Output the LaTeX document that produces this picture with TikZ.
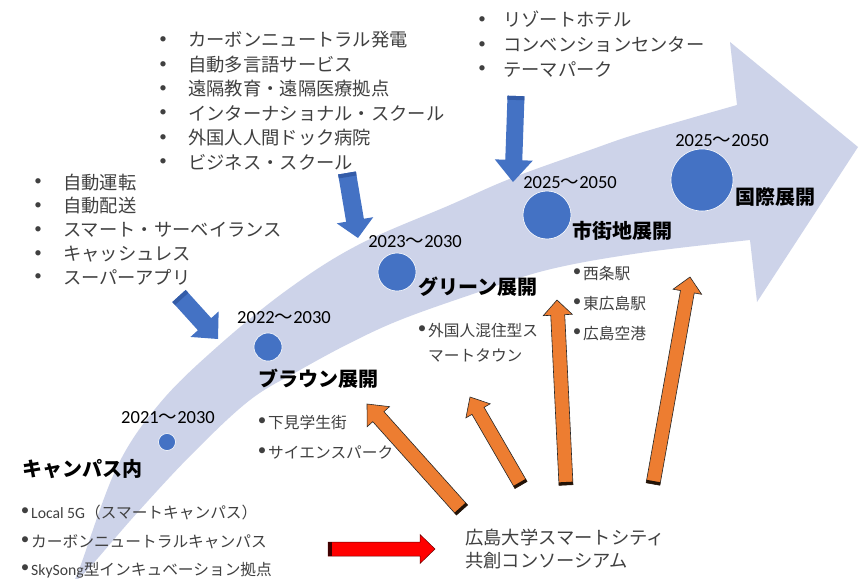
\documentclass[tikz,border=0pt]{standalone}
\usepackage{fontspec}
\setmainfont{Noto Sans CJK JP}
\newfontfamily\latinf{Carlito}
\newfontfamily\jpf{Noto Sans CJK JP}
\usetikzlibrary{calc}
\definecolor{band}{RGB}{205,211,233}
\definecolor{dotblue}{RGB}{68,114,196}
\definecolor{bluestripe}{RGB}{52,92,168}
\definecolor{orangeA}{RGB}{237,125,49}
\definecolor{txtgray}{RGB}{64,64,64}
\newcommand\blockarr[8]{%
  \path ($(#3)!#6!(#2)$) coordinate (hb) ($(#2)!#8!(#3)$) coordinate (ts);
  \filldraw[#1] ($(#2)!#4!90:(#3)$) -- ($(hb)!#4!90:(#3)$) -- ($(hb)!#5!90:(#3)$) -- (#3)
     -- ($(hb)!#5!-90:(#3)$) -- ($(hb)!#4!-90:(#3)$) -- ($(#2)!#4!-90:(#3)$) -- cycle;
  \fill[#7] ($(#2)!#4!90:(#3)$) -- ($(ts)!#4!90:(#3)$) -- ($(ts)!#4!-90:(#3)$) -- ($(#2)!#4!-90:(#3)$) -- cycle;
}
\begin{document}
\begin{tikzpicture}[x=1pt,y=-1pt,
  li/.style={anchor=base west, text=txtgray, font=\fontsize{18.3}{20}\selectfont, inner sep=0},
  bul/.style={anchor=center, text=txtgray, font=\fontsize{15}{16}\selectfont\latinf, inner sep=0},
  sli/.style={anchor=base west, text=txtgray, font=\fontsize{15.7}{18}\selectfont, inner sep=0},
  sbul/.style={anchor=center, text=txtgray, font=\fontsize{17}{18}\selectfont\latinf, inner sep=0},
  yr/.style={anchor=base, text=black, font=\fontsize{18.5}{20}\selectfont\latinf, inner sep=0},
  stage/.style={anchor=base west, text=black, font=\fontsize{20}{22}\selectfont\bfseries, inner sep=0},
  dot/.style={circle, fill=dotblue, draw=white, line width=0.6pt, inner sep=0},
  bluearr/.style={fill=dotblue, draw=none},
  orarr/.style={fill=orangeA, draw=black!85, line width=0.6pt},
  redarr/.style={fill=red, draw=red!40!black, line width=0.5pt}]
\useasboundingbox (0,0) rectangle (861,578);
\fill[white] (0,0) rectangle (861,578);
% big curved arrow
\fill[band] plot[smooth, tension=0.6] coordinates {(72,584) (90,567) (137,513) (193,453) (250,400) (300,370) (350,343) (400,320) (470,295) (547,270) (640,253) (750,240)}
  -- (757,302) -- (858,147) -- (730,42)
  -- plot[smooth, tension=0.6] coordinates {(737,105) (640,133) (590,150) (512,178) (450,205) (358,245) (287,290) (217,347) (160,403) (117,467) (80,567) (72,584)} -- cycle;
% stage dots
\node[dot, minimum size=17pt] (c1) at (167,442) {};
\node[dot, minimum size=28pt] (c2) at (268,347) {};
\node[dot, minimum size=38pt] (c3) at (397,272) {};
\node[dot, minimum size=48pt] (c4) at (547,215) {};
\node[dot, minimum size=62pt] (c5) at (702,180) {};
% years
\node[yr] (y1) at (168,423) {2021{\jpf 〜}2030};
\node[yr] (y2) at (284,323) {2022{\jpf 〜}2030};
\node[yr] (y3) at (415,247) {2023{\jpf 〜}2030};
\node[yr] (y4) at (570,188) {2025{\jpf 〜}2050};
\node[yr] (y5) at (722,146) {2025{\jpf 〜}2050};
% stage labels
\node[stage] (s1) at (22,476) {キャンパス内};
\node[stage] (s2) at (258,386) {ブラウン展開};
\node[stage] (s3) at (418,294) {グリーン展開};
\node[stage] (s4) at (572,238) {市街地展開};
\node[stage] (s5) at (735,204) {国際展開};
% blue arrows
\coordinate (bat) at (179,296); \coordinate (bah) at (218,339);
\coordinate (bbt) at (347,173); \coordinate (bbh) at (358,238);
\coordinate (bct) at (516,96);  \coordinate (bch) at (513,182);
\blockarr{bluearr}{bat}{bah}{9pt}{19pt}{20pt}{bluestripe}{4pt}
\blockarr{bluearr}{bbt}{bbh}{9pt}{18.5pt}{18pt}{bluestripe}{4pt}
\blockarr{bluearr}{bct}{bch}{8.5pt}{19pt}{22pt}{bluestripe}{4pt}
% orange arrows
\coordinate (o1t) at (462,510); \coordinate (o1h) at (367,404);
\coordinate (o2t) at (521,485); \coordinate (o2h) at (470,397);
\coordinate (o3t) at (566,485); \coordinate (o3h) at (557,300);
\coordinate (o4t) at (653,484); \coordinate (o4h) at (690,277);
\blockarr{orarr}{o1t}{o1h}{7.5pt}{15pt}{17pt}{black!85!orangeA}{3pt}
\blockarr{orarr}{o2t}{o2h}{7pt}{14pt}{16pt}{black!85!orangeA}{3pt}
\blockarr{orarr}{o3t}{o3h}{7pt}{14.5pt}{15pt}{black!85!orangeA}{3pt}
\blockarr{orarr}{o4t}{o4h}{7pt}{14.5pt}{15pt}{black!85!orangeA}{3pt}
% red arrow
\coordinate (rt) at (328,549); \coordinate (rh) at (435,549);
\blockarr{redarr}{rt}{rh}{7pt}{14.5pt}{15pt}{red!25!black}{4pt}
% top-left list
\foreach \t [count=\i] in {自動運転,自動配送,スマート・サーベイランス,キャッシュレス,スーパーアプリ} {
  \node[li] (la\i) at (63,{189+23.8*(\i-1)}) {\t};
  \node[bul] (lab\i) at (38,{189+23.8*(\i-1)-6.8}) {•};
}
% middle list
\foreach \t [count=\i] in {カーボンニュートラル発電,自動多言語サービス,遠隔教育・遠隔医療拠点,インターナショナル・スクール,外国人人間ドック病院,ビジネス・スクール} {
  \node[li] (lb\i) at (188,{47+24.4*(\i-1)}) {\t};
  \node[bul] (lbb\i) at (163,{47+24.4*(\i-1)-6.8}) {•};
}
% right list
\foreach \t [count=\i] in {リゾートホテル,コンベンションセンター,テーマパーク} {
  \node[li] (lc\i) at (503,{27+24.5*(\i-1)}) {\t};
  \node[bul] (lcb\i) at (482,{27+24.5*(\i-1)-6.8}) {•};
}
% campus list
\node[sli] (ca1) at (31,518) {{\latinf Local 5G}（スマートキャンパス）};
\node[sli] (ca2) at (31,547) {カーボンニュートラルキャンパス};
\node[sli] (ca3) at (31,575) {{\latinf SkySong}型インキュベーション拠点};
\node[sbul] (cab1) at (25,512) {•};
\node[sbul] (cab2) at (25,541) {•};
\node[sbul] (cab3) at (25,569) {•};
% brown list
\node[sli] (br1) at (268,428) {下見学生街};
\node[sli] (br2) at (268,458) {サイエンスパーク};
\node[sbul] (brb1) at (262,422) {•};
\node[sbul] (brb2) at (262,452) {•};
% green list
\node[sli] (gr1) at (428,336) {外国人混住型ス};
\node[sli] (gr2) at (428,361) {マートタウン};
\node[sbul] (grb1) at (422,330) {•};
% city list
\node[sli] (ct1) at (583,279) {西条駅};
\node[sli] (ct2) at (583,309) {東広島駅};
\node[sli] (ct3) at (583,339) {広島空港};
\node[sbul] (ctb1) at (577,273) {•};
\node[sbul] (ctb2) at (577,303) {•};
\node[sbul] (ctb3) at (577,333) {•};
% consortium
\node[li] (hu1) at (465,544) {広島大学スマートシティ};
\node[li] (hu2) at (465,567) {共創コンソーシアム};
\end{tikzpicture}
\end{document}
